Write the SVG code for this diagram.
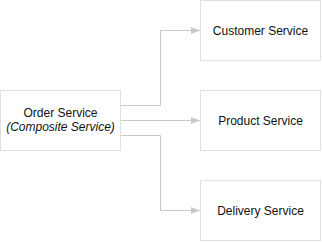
<svg xmlns="http://www.w3.org/2000/svg" width="322" height="242" viewBox="0 0 322 242">
<style>
.box{fill:#fff;stroke:#e0e0e0;stroke-width:1}
.lbl{font-family:"Liberation Sans",Arial,sans-serif;font-size:12px;fill:#111;text-anchor:middle}
.it{font-style:italic}
.edge{fill:none;stroke:#c8c8c8;stroke-width:1}
</style>
<defs>
<marker id="arr" markerWidth="10" markerHeight="8" refX="9" refY="4" orient="auto" markerUnits="userSpaceOnUse">
<path d="M0,0.5 L9,4 L0,7.5 Z" fill="#c8c8c8"/>
</marker>
</defs>
<rect width="322" height="242" fill="#fff"/>
<g id="edges">
<path class="edge" d="M120.5,105.5 H160.5 V30.5 H200" marker-end="url(#arr)"/>
<path class="edge" d="M120.5,120.5 H200" marker-end="url(#arr)"/>
<path class="edge" d="M120.5,135.5 H160.5 V210.5 H200" marker-end="url(#arr)"/>
</g>
<g id="order">
<rect class="box" x="0.5" y="90.5" width="120" height="60"/>
<text class="lbl" x="60.5" y="117">Order Service</text>
<text class="lbl it" x="60.5" y="131">(Composite Service)</text>
</g>
<g id="customer">
<rect class="box" x="200.5" y="0.5" width="120" height="60"/>
<text class="lbl" x="260.5" y="34.5">Customer Service</text>
</g>
<g id="product">
<rect class="box" x="200.5" y="90.5" width="120" height="60"/>
<text class="lbl" x="260.5" y="124.5">Product Service</text>
</g>
<g id="delivery">
<rect class="box" x="200.5" y="180.5" width="120" height="60"/>
<text class="lbl" x="260.5" y="214.5">Delivery Service</text>
</g>
</svg>
